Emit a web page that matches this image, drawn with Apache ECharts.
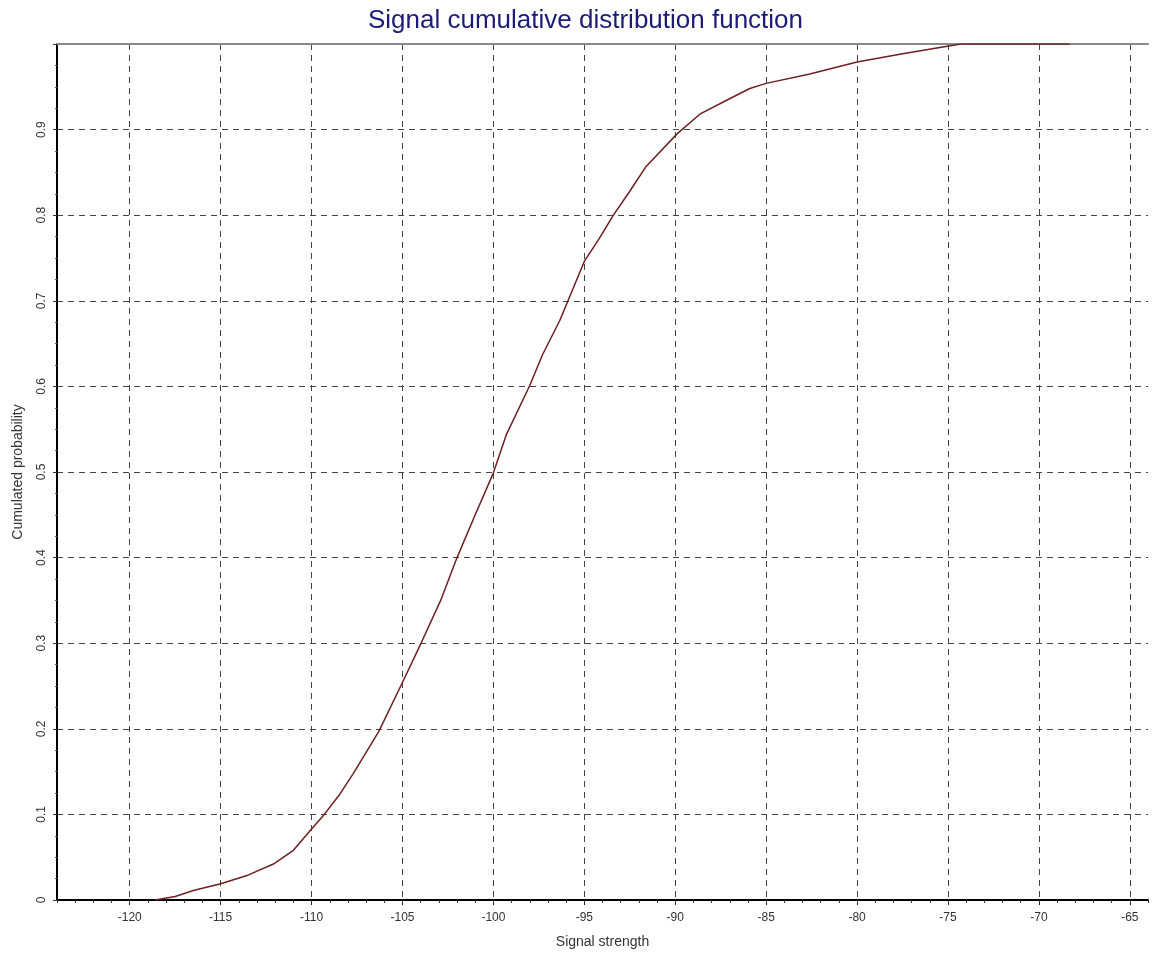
<!DOCTYPE html>
<html>
<head>
<meta charset="utf-8">
<title>Signal cumulative distribution function</title>
<script src="https://cdn.jsdelivr.net/npm/echarts@6.0.0/dist/echarts.min.js"></script>
<style>
  html, body { margin: 0; padding: 0; background: #fff; }
  #chart { width: 1152px; height: 954px; }
</style>
</head>
<body>
<div id="chart"></div>
<script>
// signal strength (dBm)
var signalStrength = [
    -118.6, -117.5, -116.5, -115.0, -113.5, -112.1, -111.0, -110.0, -109.3, -108.5,
    -107.7, -106.3, -105.05, -104.0, -102.9, -102.0, -101.0, -100.0, -99.3, -98.0,
    -97.3, -96.35, -95.0, -94.2, -93.4, -92.5, -91.6, -89.9, -88.65, -87.2,
    -85.9, -85.0, -82.6, -80.0, -77.65, -75.45, -74.3, -68.3
];
// cumulated probability at each point
var cumProb = [
    0, 0.004, 0.011, 0.019, 0.029, 0.042, 0.058, 0.083, 0.100, 0.122,
    0.148, 0.197, 0.252, 0.299, 0.350, 0.400, 0.450, 0.499, 0.543, 0.601,
    0.637, 0.677, 0.746, 0.772, 0.800, 0.828, 0.857, 0.895, 0.918, 0.934,
    0.948, 0.954, 0.965, 0.979, 0.988, 0.996, 1.0, 1.0
];
var xTicks = [-120, -115, -110, -105, -100, -95, -90, -85, -80, -75, -70, -65];

var font = 'Liberation Sans, Arial, sans-serif';

var points = [];
for (var i = 0; i < signalStrength.length; i++) {
    points.push([signalStrength[i], cumProb[i]]);
}

var myChart = echarts.init(document.getElementById('chart'));

var option = {
    animation: false,
    backgroundColor: '#fff',
    title: {
        text: 'Signal cumulative distribution function',
        left: 363,
        top: 3,
        textStyle: {
            fontFamily: font,
            fontSize: 26,
            fontWeight: 'normal',
            color: '#1c1c78'
        }
    },
    grid: {
        left: 57,
        right: 4,
        top: 44,
        bottom: 54
    },
    xAxis: [{
        // main axis: labels, major ticks, grid lines
        type: 'value',
        min: -124,
        max: -64,
        position: 'bottom',
        name: 'Signal strength',
        nameLocation: 'middle',
        nameGap: 35,
        nameTextStyle: { fontFamily: font, fontSize: 14, color: '#333' },
        axisLine: { onZero: false, lineStyle: { color: '#000', width: 2 } },
        axisTick: { customValues: xTicks, length: 5, lineStyle: { color: '#222' } },
        axisLabel: {
            customValues: xTicks,
            margin: 12,
            fontFamily: font,
            fontSize: 12,
            color: '#333'
        },
        splitLine: {
            show: true,
            lineStyle: { color: '#444', type: [6, 5], width: 1 }
        }
    }, {
        // minor ticks every 1 dBm
        type: 'value',
        min: -124,
        max: -64,
        interval: 1,
        position: 'bottom',
        axisLine: { show: false },
        axisTick: { length: 3, lineStyle: { color: '#333' } },
        axisLabel: { show: false },
        splitLine: { show: false }
    }, {
        // top border
        type: 'value',
        min: -124,
        max: -64,
        position: 'top',
        axisLine: { onZero: false, lineStyle: { color: '#8a8a8a', width: 2 } },
        axisTick: { show: false },
        axisLabel: { show: false },
        splitLine: { show: false }
    }],
    yAxis: {
        type: 'value',
        min: 0,
        max: 1,
        interval: 0.1,
        name: 'Cumulated probability',
        nameLocation: 'middle',
        nameGap: 32,
        nameTextStyle: { fontFamily: font, fontSize: 14, color: '#333' },
        axisLine: { lineStyle: { color: '#000', width: 2 } },
        axisTick: { length: 4, lineStyle: { color: '#333' } },
        minorTick: { show: true, splitNumber: 4, length: 2, lineStyle: { color: '#555' } },
        axisLabel: {
            rotate: 90,
            margin: 9,
            showMaxLabel: false,
            fontFamily: font,
            fontSize: 12,
            color: '#333'
        },
        splitLine: {
            show: true,
            lineStyle: { color: '#444', type: [6, 5], width: 1 }
        }
    },
    series: [{
        type: 'line',
        xAxisIndex: 0,
        data: points,
        showSymbol: false,
        lineStyle: { color: '#6e1f1f', width: 1.5 },
        z: 5
    }]
};

myChart.setOption(option);
</script>
</body>
</html>
